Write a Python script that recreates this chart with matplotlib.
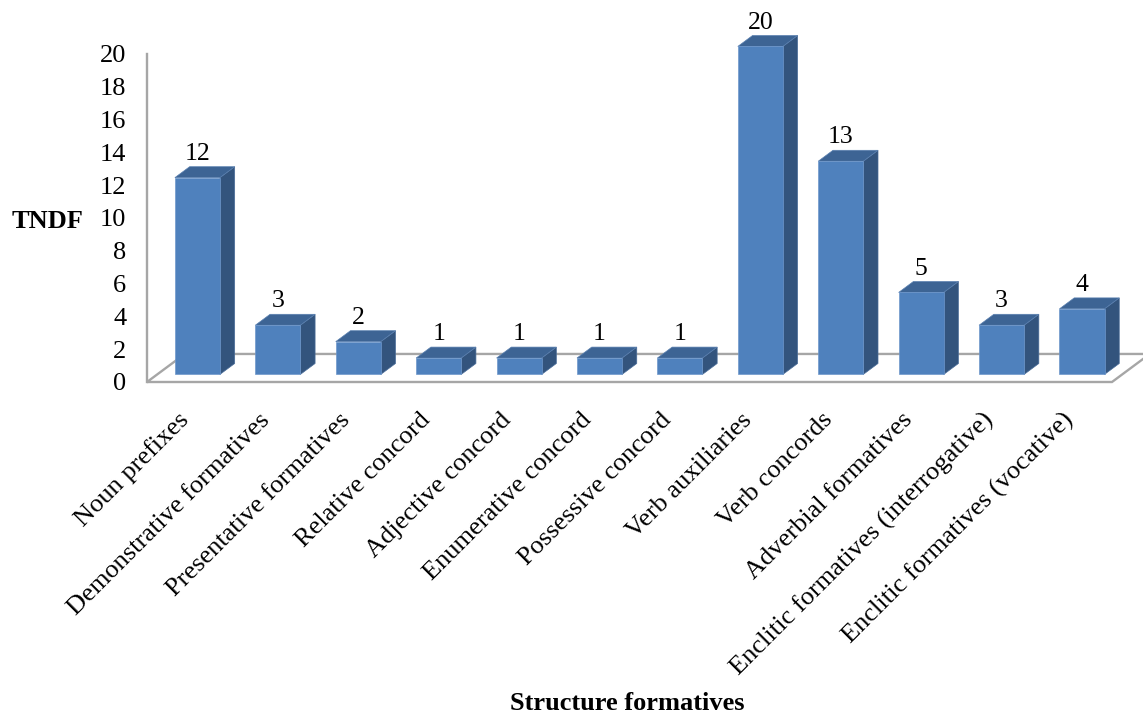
import numpy as np
import matplotlib
matplotlib.use("Agg")
import matplotlib.pyplot as plt
from matplotlib.patches import Polygon

plt.rcParams['font.family'] = ['Liberation Serif', 'DejaVu Serif']

categories = [
    "Noun prefixes", "Demonstrative formatives", "Presentative formatives",
    "Relative concord", "Adjective concord", "Enumerative concord",
    "Possessive concord", "Verb auxiliaries", "Verb concords",
    "Adverbial formatives", "Enclitic formatives (interrogative)",
    "Enclitic formatives (vocative)",
]
counts = [12, 3, 2, 1, 1, 1, 1, 20, 13, 5, 3, 4]
yticks = list(range(0, 21, 2))

# oblique depth of the floor in data units (x in categories, y in counts)
DX, DY = 0.47, 1.71
d_front, d_back = 0.27, 0.66
bar_w = 0.56

front_col = '#4F81BD'
top_col = '#3D6494'
side_col = '#33547D'
grid_col = '#A6A6A6'

fig = plt.figure(figsize=(11.43, 7.19), dpi=100)
ax = fig.add_axes([147 / 1143, 337 / 719, 965 / 1143, 328 / 719])
n = len(categories)
ax.set_xlim(-0.5, n - 0.5)
ax.set_ylim(0, 20)

# floor
x0, x1 = -0.5, n - 0.5
floor = Polygon([(x0, 0), (x1, 0), (x1 + DX, DY), (x0 + DX, DY)], closed=True,
                facecolor='white', edgecolor=grid_col, linewidth=1.7,
                clip_on=False, zorder=1)
ax.add_patch(floor)

ox = (d_back - d_front) * DX
oy = (d_back - d_front) * DY
for i, v in enumerate(counts):
    cx = i + d_front * DX
    bx0, bx1 = cx - bar_w / 2, cx + bar_w / 2
    by0, by1 = d_front * DY, v + d_front * DY
    side = Polygon([(bx1, by0), (bx1, by1), (bx1 + ox, by1 + oy), (bx1 + ox, by0 + oy)],
                   closed=True, facecolor=side_col, edgecolor='#4A6D99',
                   linewidth=0.5, clip_on=False, zorder=3)
    top = Polygon([(bx0, by1), (bx1, by1), (bx1 + ox, by1 + oy), (bx0 + ox, by1 + oy)],
                  closed=True, facecolor=top_col, edgecolor='#5A80B0',
                  linewidth=0.5, clip_on=False, zorder=3)
    front = Polygon([(bx0, by0), (bx1, by0), (bx1, by1), (bx0, by1)],
                    closed=True, facecolor=front_col, edgecolor='#6E97CB',
                    linewidth=0.5, clip_on=False, zorder=4)
    for p in (side, top, front):
        ax.add_patch(p)
    ax.annotate(str(v), (cx, by1 + oy), xytext=(0, 5), textcoords='offset points',
                ha='center', va='baseline', fontsize=18.5,
                annotation_clip=False, zorder=5)

for s in ('top', 'right', 'bottom'):
    ax.spines[s].set_visible(False)
ax.spines['left'].set_color(grid_col)
ax.spines['left'].set_linewidth(1.7)

ax.set_yticks(yticks)
ax.tick_params(axis='y', length=0, pad=15, labelsize=19)
ax.set_xticks(np.arange(n) - 0.02)
ax.set_xticklabels(categories, rotation=45, ha='right', va='center',
                   rotation_mode='anchor', fontsize=19)
ax.tick_params(axis='x', length=0, pad=25)

ax.set_ylabel('TNDF', rotation=0, fontsize=19, fontweight='bold', ha='center', va='center')
ax.yaxis.set_label_coords(-0.1036, 0.488)
ax.set_xlabel('Structure formatives', fontsize=19, fontweight='bold', ha='center', va='center')
ax.xaxis.set_label_coords(0.498, -0.979)

fig.savefig('out.png', dpi=100)
